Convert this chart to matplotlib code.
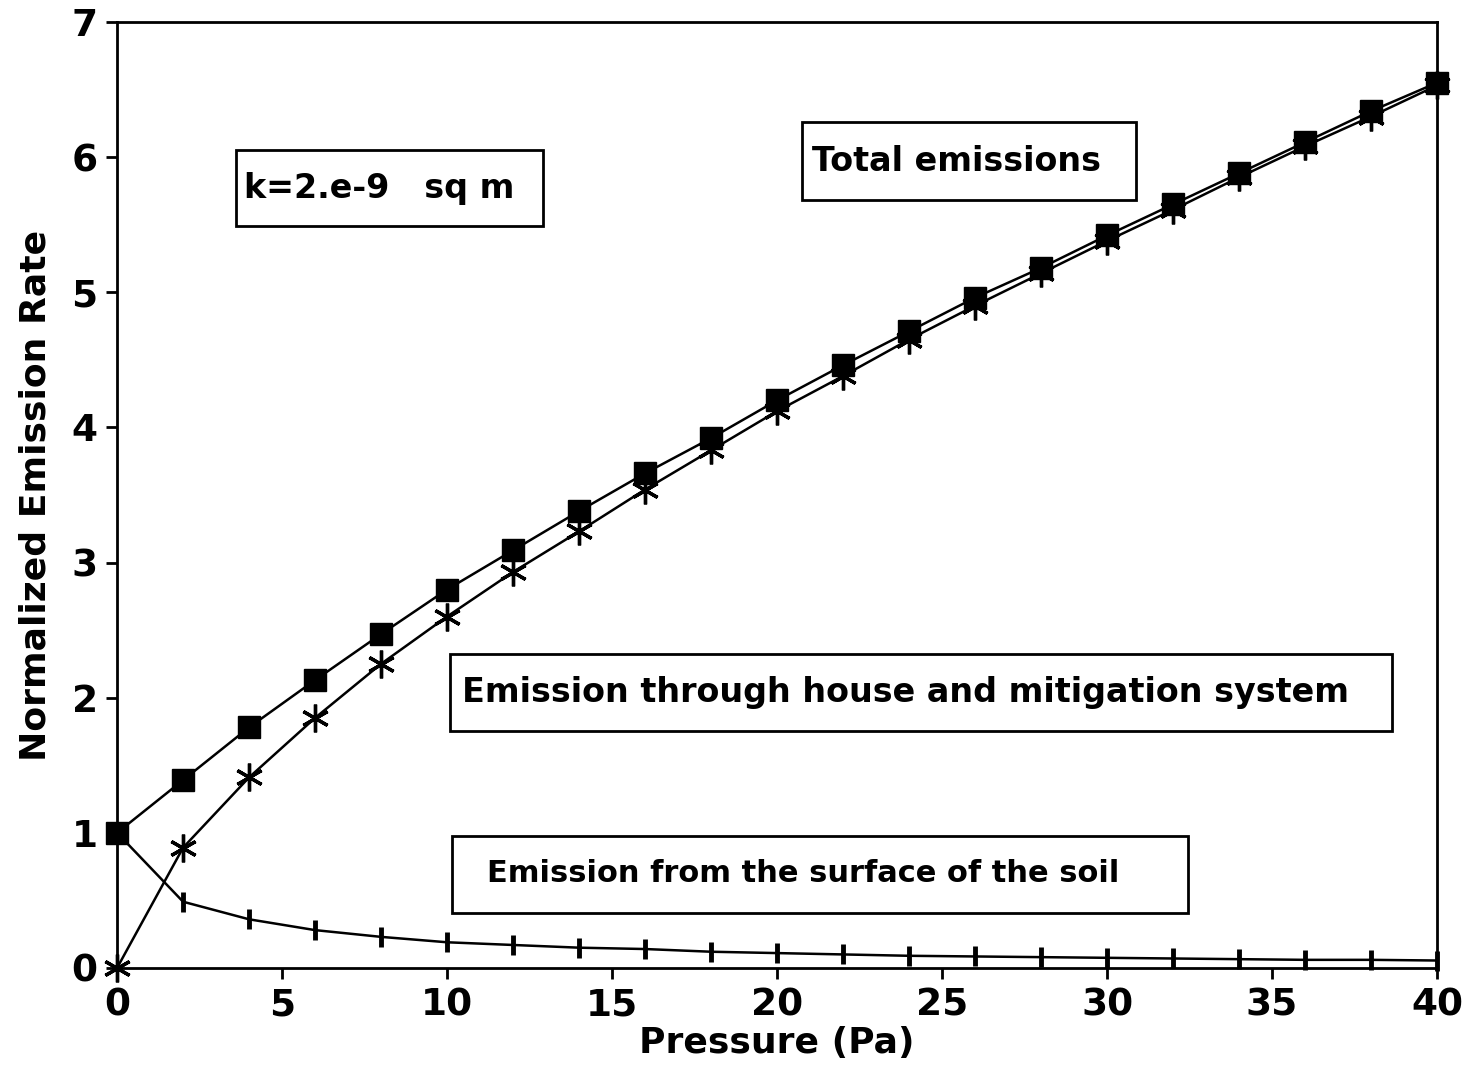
import matplotlib
matplotlib.use("Agg")
import matplotlib.pyplot as plt
from matplotlib.patches import Rectangle

# pressure (Pa)
pressure = [0, 2, 4, 6, 8, 10, 12, 14, 16, 18, 20,
            22, 24, 26, 28, 30, 32, 34, 36, 38, 40]

# total emissions (filled squares)
total = [1.00, 1.39, 1.78, 2.13, 2.47, 2.80, 3.09, 3.38, 3.66, 3.92, 4.20,
         4.46, 4.71, 4.96, 5.18, 5.42, 5.65, 5.88, 6.11, 6.34, 6.55]

# emission through house and mitigation system (asterisks)
house = [0.00, 0.89, 1.41, 1.85, 2.25, 2.60, 2.93, 3.23, 3.54, 3.83, 4.12,
         4.38, 4.65, 4.90, 5.14, 5.38, 5.61, 5.85, 6.08, 6.30, 6.53]

# emission from the surface of the soil (vertical ticks)
soil = [1.00, 0.49, 0.36, 0.28, 0.23, 0.19, 0.17, 0.15, 0.14, 0.12, 0.11,
        0.10, 0.09, 0.085, 0.08, 0.075, 0.07, 0.065, 0.06, 0.06, 0.055]

x_ticks = [0, 5, 10, 15, 20, 25, 30, 35, 40]
y_ticks = [0, 1, 2, 3, 4, 5, 6, 7]

fig = plt.figure(figsize=(14.69, 10.92), dpi=100)
ax = fig.add_axes([0.0797, 0.1136, 0.8985, 0.8663])

ax.plot(pressure, total, color='black', lw=1.8, marker='s', ms=16,
        mfc='black', mec='black', clip_on=False, zorder=3)
ax.plot(pressure, house, color='black', lw=1.8, marker=(6, 2, 0), ms=20,
        mew=2.4, clip_on=False, zorder=3)
ax.plot(pressure, soil, color='black', lw=1.8, marker='|', ms=15,
        mew=3.5, clip_on=False, zorder=3)

ax.set_xlim(0, 40)
ax.set_ylim(0, 7)
ax.set_xticks(x_ticks)
ax.set_yticks(y_ticks)
for s in ax.spines.values():
    s.set_linewidth(2.0)
ax.tick_params(direction='out', length=8, width=2, labelsize=27, pad=6)
for lab in ax.get_xticklabels() + ax.get_yticklabels():
    lab.set_fontweight('bold')

ax.set_xlabel('Pressure (Pa)', fontsize=26, fontweight='bold', labelpad=2)
ax.set_ylabel('Normalized Emission Rate', fontsize=26, fontweight='bold',
              labelpad=14)

# label boxes: (x0, y0, width, height) in data units, text, text x, text y, size
boxes = [
    ((3.6, 5.49, 9.3, 0.56), 'k=2.e-9   sq m', 3.85, 5.77, 24),
    ((20.76, 5.68, 10.12, 0.58), 'Total emissions', 21.06, 5.97, 24),
    ((10.09, 1.75, 28.55, 0.57), 'Emission through house and mitigation system',
     10.45, 2.04, 24),
    ((10.15, 0.41, 22.3, 0.57), 'Emission from the surface of the soil',
     11.2, 0.70, 22),
]
for (x0, y0, w, h), txt, tx, ty, fs in boxes:
    ax.add_patch(Rectangle((x0, y0), w, h, fill=False, ec='black', lw=2.0,
                           zorder=4))
    ax.text(tx, ty, txt, ha='left', va='center', fontsize=fs,
            fontweight='bold', zorder=5)

fig.savefig('out.png', dpi=100)
